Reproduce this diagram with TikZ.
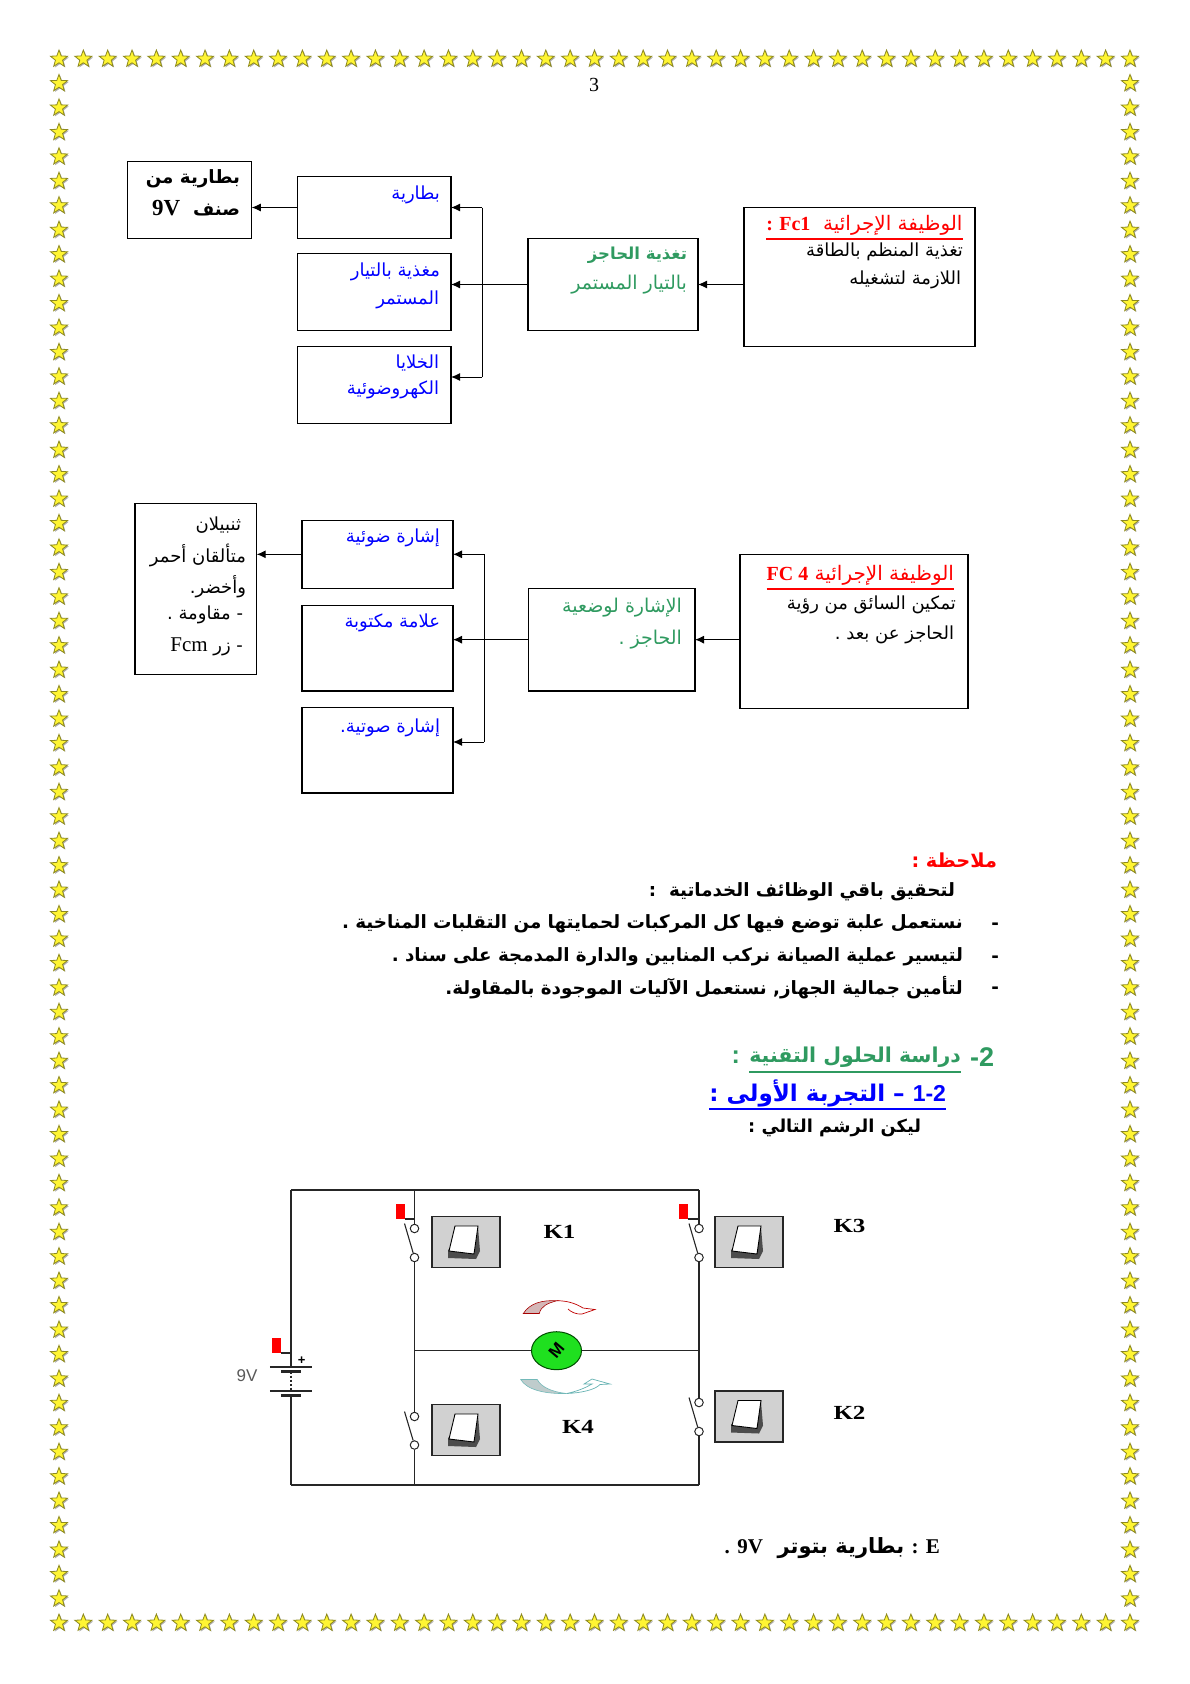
\documentclass[tikz,border=0pt]{standalone}
\usepackage{fontspec}
\usetikzlibrary{positioning, arrows.meta, shapes.geometric, shadows}
\TeXXeTstate=1
\newfontfamily\arabicfont[Script=Arabic]{DejaVu Sans}
\newfontfamily\serifbold[BoldFont={Liberation Serif Bold}]{Liberation Serif}
\newfontfamily\arialbold{Liberation Sans}
\newcommand{\artxt}[1]{\beginR #1\endR}
\newcommand{\lat}[1]{{\serifbold\bfseries\beginL #1\endL}}
\newcommand{\latr}[1]{{\serifbold\fontsize{21}{24}\selectfont\beginL #1\endL}}
\definecolor{hgreen}{HTML}{2F9A60}
\definecolor{staryellow}{HTML}{FFF533}
\definecolor{staredge}{HTML}{8E8A1E}
\definecolor{motorgreen}{HTML}{1FE01F}
\tikzset{
  starmark/.style={star, star points=5, star point ratio=2.4, minimum size=18pt, inner sep=0pt,
    fill=staryellow, draw=staredge, line width=.8pt,
    drop shadow={shadow xshift=1.2pt, shadow yshift=-1.2pt, fill=black!45, opacity=.7}},
  box/.style={rectangle, draw, line width=1.1pt, inner sep=0pt, outer sep=0pt},
  txt/.style={inner sep=0pt, outer sep=0pt, anchor=east, font=\arabicfont\fontsize{18}{20}\selectfont},
  txtb/.style={inner sep=0pt, outer sep=0pt, anchor=east, font=\arabicfont\bfseries\fontsize{18.3}{20}\selectfont},
  txtt/.style={txt, red, font=\arabicfont\fontsize{20}{22}\selectfont},
  txtg/.style={txt, hgreen, font=\arabicfont\fontsize{19}{20}\selectfont},
  arr/.style={-{Latex[length=9pt,width=8pt]}, line width=1pt},
  wire/.style={line width=1.5pt, draw=black!85},
  contact/.style={circle, draw=black!85, fill=white, line width=1pt, minimum size=8.5pt, inner sep=0pt},
  flag/.style={rectangle, fill=red, minimum width=9pt, minimum height=15pt, inner sep=0pt},
  swbtn/.style={rectangle, draw=black!85, fill=black!18, line width=1.6pt, minimum width=68pt, minimum height=51pt, inner sep=0pt},
  klabel/.style={inner sep=0pt, xscale=1.25, font=\serifbold\bfseries\fontsize{20}{24}\selectfont}
}
\begin{document}
\begin{tikzpicture}[x=1pt,y=-1pt]
\useasboundingbox (0,0) rectangle (1190,1684);

%Stars
\foreach \i in {0,...,44} {
  \node[starmark] (stT\i) at ({59+24.34*\i},59) {};
  \node[starmark] (stB\i) at ({59+24.34*\i},1623) {};
}
\foreach \j in {1,...,63} {
  \node[starmark] (stL\j) at (59,{59+24.44*\j}) {};
  \node[starmark] (stR\j) at (1130,{59+24.44*\j}) {};
}

\node[inner sep=0pt, font=\serifbold\fontsize{20}{24}\selectfont] (pg) at (594,85) {3};

%First block
\node (A) at (189.75,200) [box, minimum width=124pt, minimum height=76.6pt] {};
\node (B1) at (374.25,207.5) [box, minimum width=153.5pt, minimum height=61.6pt] {};
\node (B2) at (374.25,292) [box, minimum width=153.5pt, minimum height=77.4pt] {};
\node (B3) at (374.25,384.8) [box, minimum width=153.5pt, minimum height=77pt] {};
\node (C) at (613,284.5) [box, minimum width=170pt, minimum height=92.4pt] {};
\node (D) at (859.5,276.8) [box, minimum width=231pt, minimum height=139pt] {};

\coordinate (bus1) at (482,207.5);
\coordinate (bus2) at (482,377);
\draw[arr] (B1.west) to (B1.west -| A.east);
\draw[arr] (D.west |- C.east) to (C.east);
\draw[arr] (C.west) to (C.west -| B2.east);
\draw[line width=.8pt] (bus1) to (bus2);
\draw[arr] (bus1) to (B1.east);
\draw[arr] (bus2) to (bus2 -| B3.east);

\node[txtb] (At1) at (240,179) {\artxt{بطارية من}};
\node[txtb] (At2) at (240,208) {\artxt{صنف \ {\fontsize{23}{24}\selectfont\lat{9V}}}};
\node[txt, blue] (B1t) at (440,195) {\artxt{بطارية}};
\node[txt, blue] (B2t1) at (440,272) {\artxt{مغذية بالتيار}};
\node[txt, blue] (B2t2) at (439,300) {\artxt{المستمر}};
\node[txt, blue] (B3t1) at (439,363) {\artxt{الخلايا}};
\node[txt, blue] (B3t2) at (439,390) {\artxt{الكهروضوئية}};
\node[txtg, font=\arabicfont\bfseries\fontsize{16.5}{20}\selectfont] (Ct1) at (687,255) {\artxt{تغذية الحاجز}};
\node[txtg] (Ct2) at (687,285) {\artxt{بالتيار المستمر}};
\node[txtt] (Dt0) at (962.5,225) {\artxt{الوظيفة الإجرائية \ \lat{Fc1} \lat{:}}};
\draw[red, line width=1.6pt] (Dt0.west |- 0,239) to (Dt0.east |- 0,239);
\node[txt] (Dt1) at (963,252) {\artxt{تغذية المنظم بالطاقة}};
\node[txt] (Dt2) at (961,280) {\artxt{اللازمة لتشغيله}};

%Second block
\node (E) at (195.85,588.8) [box, minimum width=121.7pt, minimum height=171pt] {};
\node (F1) at (377.5,554.3) [box, minimum width=151pt, minimum height=68pt] {};
\node (F2) at (377.5,648.35) [box, minimum width=151pt, minimum height=85.3pt] {};
\node (F3) at (377.5,750.35) [box, minimum width=151pt, minimum height=85.3pt] {};
\node (G) at (611.75,639.65) [box, minimum width=166.5pt, minimum height=102.7pt] {};
\node (H) at (854,631.3) [box, minimum width=228pt, minimum height=154pt] {};

\coordinate (bus3) at (484,554.3);
\coordinate (bus4) at (484,742);
\draw[arr] (F1.west) to (E.east |- F1.west);
\draw[arr] (H.west |- G.east) to (G.east);
\draw[arr] (G.west) to (G.west -| F2.east);
\draw[line width=1pt] (bus3) to (bus4);
\draw[arr] (bus3) to (F1.east);
\draw[arr] (bus4) to (bus4 -| F3.east);

\node[txt] (Et1) at (241,525) {\artxt{ثنبيلان}};
\node[txt] (Et2) at (246,555) {\artxt{متألقان أحمر}};
\node[txt] (Et3) at (246,587) {\artxt{وأخضر.}};
\node[txt] (Et4) at (243,615) {\artxt{- مقاومة .}};
\node[txt] (Et5) at (243,647) {\artxt{- زر \latr{Fcm}}};
\node[txt, blue] (F1t) at (440,538) {\artxt{إشارة ضوئية}};
\node[txt, blue] (F2t) at (440,623) {\artxt{علامة مكتوبة}};
\node[txt, blue] (F3t) at (440,728) {\artxt{إشارة صوتية.}};
\node[txtg] (Gt1) at (682,608) {\artxt{الإشارة لوضعية}};
\node[txtg] (Gt2) at (682,640) {\artxt{الحاجز .}};
\node[txtt] (Ht0) at (954,575) {\artxt{الوظيفة الإجرائية \lat{FC 4}}};
\draw[red, line width=1.6pt] (Ht0.west |- 0,589) to (Ht0.east |- 0,589);
\node[txt] (Ht1) at (956,605) {\artxt{تمكين السائق من رؤية}};
\node[txt] (Ht2) at (954,635) {\artxt{الحاجز عن بعد .}};

%Text
\node[txtb, red, font=\arabicfont\bfseries\fontsize{19.3}{20}\selectfont] (note) at (997,860) {\artxt{ملاحظة :}};
\node[txtb] (p0) at (955,892) {\artxt{لتحقيق باقي الوظائف الخدماتية \ :}};
\node[txtb] (p1) at (963,924) {\artxt{نستعمل علبة توضع فيها كل المركبات لحمايتها من التقلبات المناخية .}};
\node[txtb] (p2) at (963,957) {\artxt{لتيسير عملية الصيانة نركب المنابين والدارة المدمجة على سناد .}};
\node[txtb] (p3) at (963,988) {\artxt{لتأمين جمالية الجهاز, نستعمل الآليات الموجودة بالمقاولة.}};
\node[txtb] (d1) at (999,926) {-};
\node[txtb] (d2) at (999,959) {-};
\node[txtb] (d3) at (999,990) {-};

\node[txtb, hgreen, font=\arabicfont\bfseries\fontsize{20.5}{26}\selectfont] (h2) at (961,1057) {\artxt{دراسة الحلول التقنية}};
\node[txtb, hgreen, font=\arialbold\bfseries\fontsize{27}{28}\selectfont, anchor=west] (h2n) at (970,1057) {\beginL -2\endL};
\node[txtb, hgreen, font=\arialbold\bfseries\fontsize{25}{28}\selectfont] (h2c) at (740,1057) {:};
\draw[hgreen, line width=1.8pt] (h2.west |- 0,1072) to (h2.east |- 0,1072);
\node[txtb, blue, font=\arabicfont\bfseries\fontsize{23}{26}\selectfont] (h3) at (946,1093) {\artxt{{\arialbold\bfseries\beginL 1-2\endL} – التجربة الأولى :}};
\draw[blue, line width=1.8pt] (h3.west |- 0,1109) to (h3.east |- 0,1109);
\node[txtb, font=\arabicfont\bfseries\fontsize{17.8}{20}\selectfont] (h4) at (921,1128) {\artxt{ليكن الرشم التالي :}};

%Circuit
\coordinate (TL) at (290.8,1190);
\coordinate (TM) at (414.5,1190);
\coordinate (TR) at (699,1190);
\coordinate (BL) at (290.8,1485);
\coordinate (BM) at (414.5,1485);
\coordinate (BR) at (699,1485);
\coordinate (ML) at (414.5,1350.7);
\coordinate (MR) at (699,1350.7);
\coordinate (Bp) at (290.8,1367);
\coordinate (Bq) at (290.8,1371.5);
\coordinate (Bn) at (290.8,1391);
\coordinate (Bm) at (290.8,1395.5);

\node (motor) at (556.5,1350.7) [ellipse, draw=black!70!green, fill=motorgreen, line width=1pt,
  minimum width=50pt, minimum height=38pt, inner sep=0pt, font=\arialbold\bfseries\fontsize{17}{18}\selectfont] {\rotatebox{50}{M}};

\node (K1a) at (414.5,1228.5) [contact] {};
\node (K1b) at (414.5,1257.5) [contact] {};
\node (K3a) at (699,1228.5) [contact] {};
\node (K3b) at (699,1257.5) [contact] {};
\node (K4a) at (414.5,1416.5) [contact] {};
\node (K4b) at (414.5,1445) [contact] {};
\node (K2a) at (699,1402.5) [contact] {};
\node (K2b) at (699,1431.5) [contact] {};

\draw[wire] (TL) to (TM) to (TR);
\draw[wire] (BL) to (BM) to (BR);
\draw[wire] (TL) to (Bp);
\draw[wire] (Bm) to (BL);
\draw[wire, dash pattern=on 2pt off 2pt] (Bq) to (Bn);
\draw[wire] (TM) to (K1a);
\draw[wire] (K1b) to (ML);
\draw[wire] (ML) to (K4a);
\draw[wire] (K4b) to (BM);
\draw[wire] (TR) to (K3a);
\draw[wire] (K3b) to (MR);
\draw[wire] (MR) to (K2a);
\draw[wire] (K2b) to (BR);
\draw[wire] (ML) to (motor);
\draw[wire] (motor) to (MR);

%Switch arms
\foreach \sw in {K1,K3,K4,K2} {
  \coordinate (\sw arm) at ([xshift=-10pt,yshift=5pt]\sw a);
  \draw[wire, line width=1.1pt] (\sw b) to (\sw arm);
}

%Flags
\node (f1) at (400,1211.5) [flag] {};
\node (f3) at (683,1211.5) [flag] {};
\node (f0) at (276.5,1345.5) [flag] {};
\draw[wire] (f1.south east) to (f1.south east -| TM);
\draw[wire] (f3.south east) to (f3.south east -| TR);
\draw[wire] (f0.south east) to (f0.south east -| TL);

%Battery
\draw[wire] ([xshift=-21pt]Bp) to ([xshift=21pt]Bp);
\draw[wire, line width=3pt] ([xshift=-10pt]Bq) to ([xshift=10pt]Bq);
\draw[wire] ([xshift=-21pt]Bn) to ([xshift=21pt]Bn);
\draw[wire, line width=3.5pt] ([xshift=-10pt]Bm) to ([xshift=10pt]Bm);
\node (plus) at (301.7,1360.5) [inner sep=0pt, font=\arialbold\bfseries\fontsize{13}{14}\selectfont] {+};
\node (volt) at (247,1376) [inner sep=0pt, text=black!65, font=\arialbold\fontsize{17}{20}\selectfont] {9V};

%Buttons
\foreach \sw/\x/\y in {Kb1/466/1242, Kb3/749/1242, Kb4/466/1430, Kb2/749/1416.5} {
  \node (\sw) at (\x,\y) [swbtn] {};
  \begin{scope}[shift={(\x,\y)}]
    \fill[black!70] (12,-15) -- (14,9) -- (10,17) -- (-18,16) -- (-18,8) -- cycle;
    \fill[white] (-11,-16) -- (12,-16) -- (8,12) -- (-17,9) -- cycle;
    \draw[black, line width=.9pt] (-11,-16) -- (12,-16) -- (8,12) -- (-17,9) -- cycle;
  \end{scope}
}

\node[klabel] (K1) at (559.5,1232) {K1};
\node[klabel] (K3) at (849.5,1226) {K3};
\node[klabel] (K2) at (849.5,1413) {K2};
\node[klabel] (K4) at (578,1427) {K4};

%Rotation arrows
\fill[red!25!gray!45, draw=red!65!black, line width=.6pt] (523.3,1313.5) .. controls (530,1303) and (542,1300) .. (557,1300.7) .. controls (548,1303) and (541,1306) .. (539.3,1313.5) -- cycle;
\draw[red!75!black, line width=.7pt] (557,1300.7) .. controls (570,1300.7) and (578,1305) .. (583,1308) -- (595,1309.5) -- (582,1314) .. controls (576,1314.5) and (571,1312) .. (568,1309);
\fill[teal!25!gray!40, draw=teal!55, line width=.6pt] (520.7,1379.5) -- (537.3,1379.5) .. controls (541,1387) and (552,1392) .. (566.7,1393.5) .. controls (545,1394) and (527,1390) .. (520.7,1379.5) -- cycle;
\draw[teal!60, line width=.7pt] (566.7,1393.5) .. controls (580,1393) and (595,1390) .. (600,1384.5) -- (610,1384) -- (592,1379) -- (584,1384) -- (592,1384) .. controls (585,1388) and (578,1391) .. (566.7,1393.5);

\node[txtb, font=\arabicfont\bfseries\fontsize{21}{24}\selectfont] (Etxt) at (940,1548) {\artxt{\lat{E} \lat{:} بطارية بتوتر \ \lat{9V} \lat{.}}};

\end{tikzpicture}
\end{document}
